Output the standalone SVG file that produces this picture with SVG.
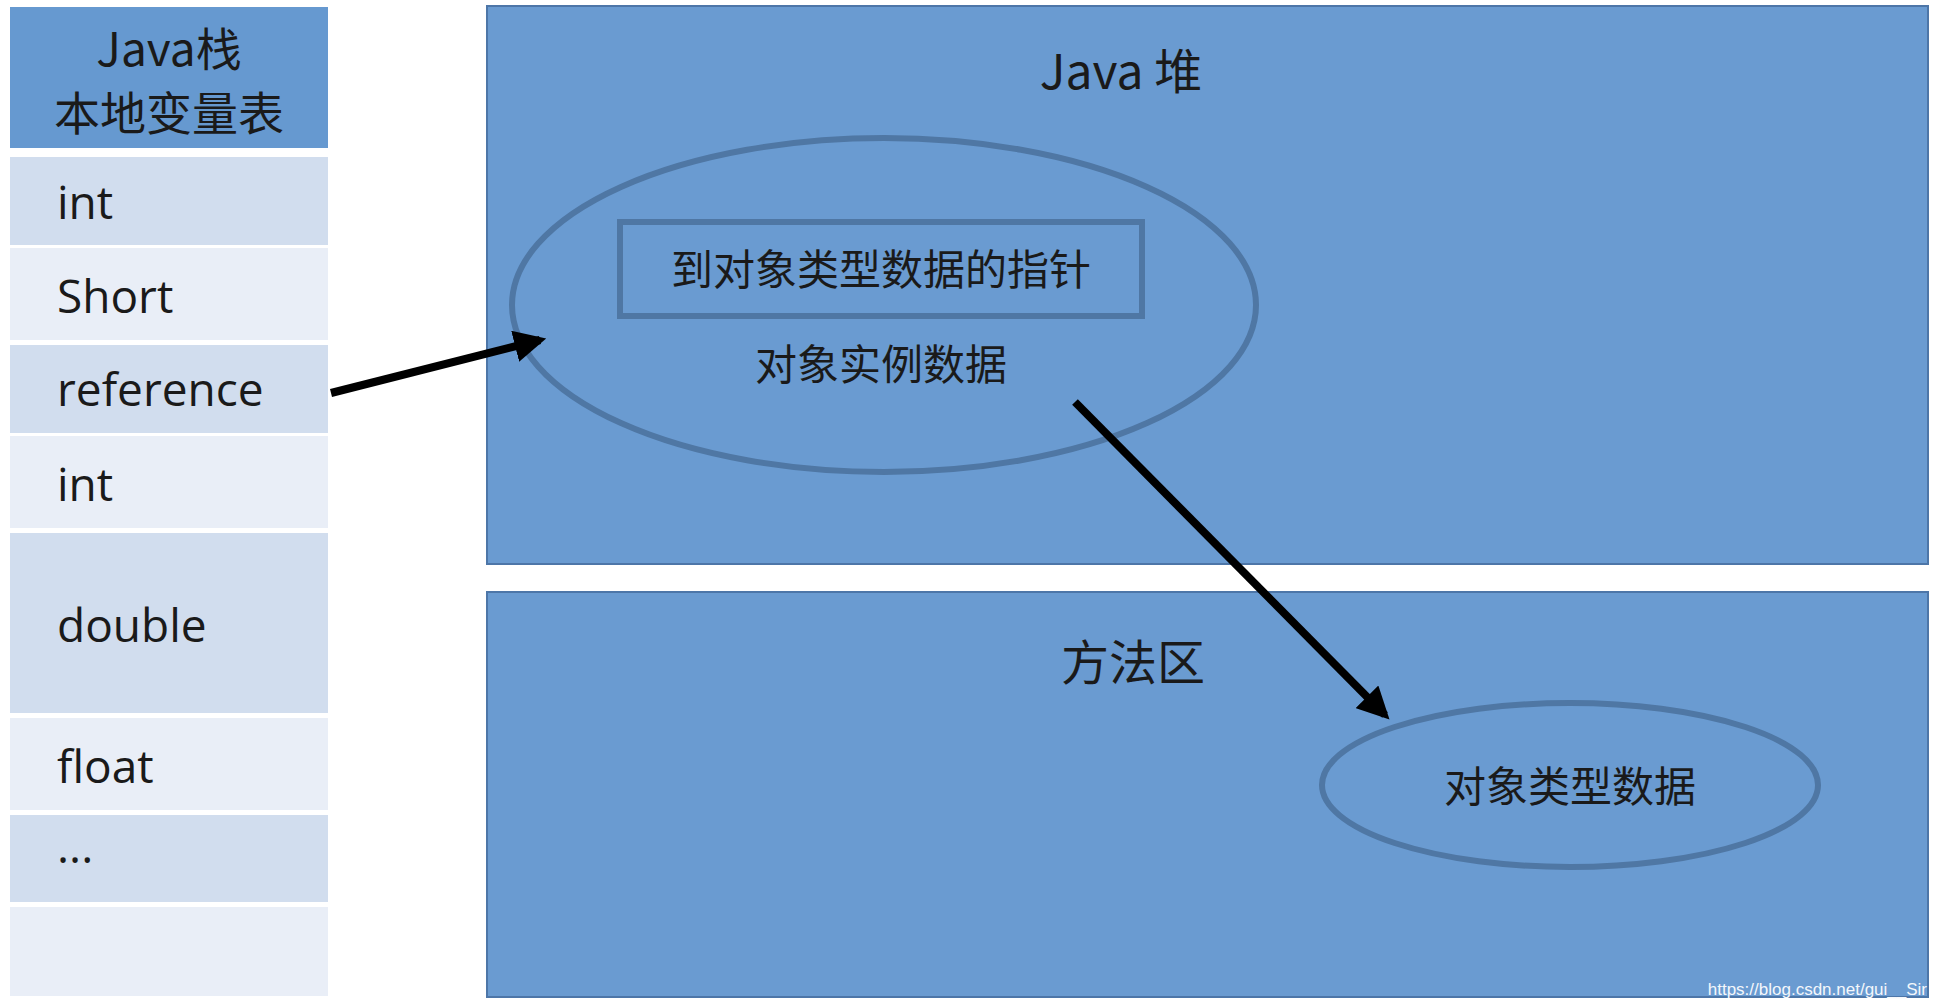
<svg xmlns="http://www.w3.org/2000/svg" width="1938" height="1008" viewBox="0 0 1938 1008">
<style>
.t{font-family:"Noto Sans CJK SC","Noto Sans",sans-serif;fill:#1a1a1a}
.r{font-family:"Open Sans","Noto Sans",sans-serif;font-size:46px;fill:#1a1a1a}
.a{fill:#d1ddee}.b{fill:#e9eef7}
.area{fill:#6a9bd1;stroke:#4d76a8;stroke-width:2}
.ell{fill:none;stroke:#4f77a4;stroke-width:6}
.con{stroke:#000;stroke-width:8;fill:none;marker-end:url(#ah)}
</style>
<defs><marker id="ah" viewBox="0 0 10 10" refX="8" refY="5" markerWidth="4" markerHeight="4" orient="auto" markerUnits="strokeWidth"><path d="M0,0L10,5L0,10z" fill="#000"/></marker></defs>
<rect width="1938" height="1008" fill="#fff"/>
<g id="stack">
<rect x="10" y="7" width="318" height="141" fill="#6699d0"/>
<text class="t" x="169" y="66" font-size="46" text-anchor="middle">Java栈</text>
<text class="t" x="169" y="130" font-size="46" text-anchor="middle">本地变量表</text>
<rect class="a" x="10" y="157" width="318" height="88"/><text class="r" x="57" y="219">int</text>
<rect class="b" x="10" y="248" width="318" height="92"/><text class="r" x="57" y="313">Short</text>
<rect class="a" x="10" y="345" width="318" height="88"/><text class="r" x="57" y="406">reference</text>
<rect class="b" x="10" y="436" width="318" height="92"/><text class="r" x="57" y="501">int</text>
<rect class="a" x="10" y="533" width="318" height="180"/><text class="r" x="57" y="642">double</text>
<rect class="b" x="10" y="718" width="318" height="92"/><text class="r" x="57" y="783">float</text>
<rect class="a" x="10" y="815" width="318" height="87"/><text class="r" x="57" y="863">...</text>
<rect class="b" x="10" y="907" width="318" height="89"/>
</g>
<g id="heap">
<rect class="area" x="487" y="6" width="1441" height="558"/>
<text class="t" x="1121" y="89" font-size="48" text-anchor="middle">Java 堆</text>
</g>
<g id="instance">
<ellipse class="ell" cx="884" cy="305" rx="372" ry="167"/>
<rect x="620" y="222" width="522" height="94" fill="none" stroke="#4f77a4" stroke-width="6"/>
<text class="t" x="881" y="285" font-size="42" text-anchor="middle">到对象类型数据的指针</text>
<text class="t" x="881" y="380" font-size="42" text-anchor="middle">对象实例数据</text>
</g>
<g id="method">
<rect class="area" x="487" y="592" width="1441" height="405"/>
<text class="t" x="1133" y="680" font-size="48" text-anchor="middle">方法区</text>
</g>
<g id="typedata">
<ellipse class="ell" cx="1570" cy="785" rx="248" ry="82"/>
<text class="t" x="1570" y="802" font-size="42" text-anchor="middle">对象类型数据</text>
</g>
<g id="connectors">
<path class="con" d="M331,393L540,340"/>
<path class="con" d="M1075,402L1385,715"/>
</g>
<text x="1927" y="995" font-family="Liberation Sans,sans-serif" font-size="17" fill="#f4f7fb" text-anchor="end">https://blog.csdn.net/gui__Sir</text>
</svg>
